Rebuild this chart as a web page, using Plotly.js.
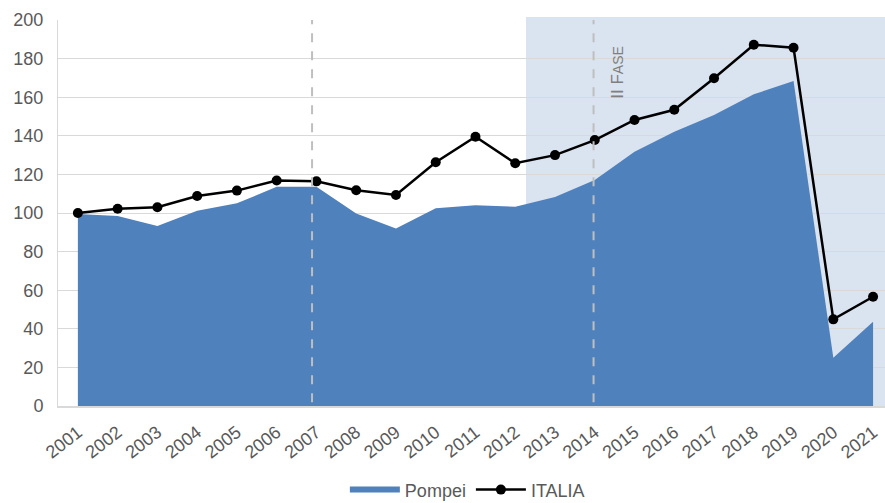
<!DOCTYPE html>
<html>
<head>
<meta charset="utf-8">
<script src="https://cdn.plot.ly/plotly-3.0.1.min.js"></script>
<style>
html,body{margin:0;padding:0;background:#fff;}
#chart{width:885px;height:503px;}
</style>
</head>
<body>
<div id="chart"></div>
<script>
const years = ["2001","2002","2003","2004","2005","2006","2007","2008","2009","2010","2011","2012","2013","2014","2015","2016","2017","2018","2019","2020","2021"];
const pompei = [99.5,98.4,93.3,101.2,105,113.6,113.6,99.8,92,102.4,104,103.3,108.3,117.1,131.8,142.1,150.8,161.5,168.4,25,43.7];
const italia = [100,102.2,103,108.8,111.6,116.8,116.4,111.8,109.3,126.3,139.5,125.8,130,137.8,148.2,153.5,169.8,187.2,185.6,44.9,56.6];
const phaseLabel = "II F<span style='font-size:14px'>ASE</span>";

const font = {family: "Liberation Sans, Arial, sans-serif", color: "#595959", size: 18};

const traces = [
  {
    type: "scatter", mode: "none", name: "Pompei",
    x: years, y: pompei,
    fill: "tozeroy", fillcolor: "#4f81bd",
    hoverinfo: "skip"
  },
  {
    type: "scatter", mode: "lines+markers", name: "ITALIA",
    x: years, y: italia,
    line: {color: "#000000", width: 2.5},
    marker: {color: "#000000", size: 10}
  }
];

const layout = {
  width: 885, height: 503,
  margin: {l: 58, r: 0, t: 20, b: 97, autoexpand: false},
  paper_bgcolor: "#ffffff",
  plot_bgcolor: "#ffffff",
  font: font,
  showlegend: true,
  legend: {
    orientation: "h", x: 0.495, xanchor: "center",
    yref: "container", y: 0.026, yanchor: "middle",
    font: {family: font.family, color: "#595959", size: 18},
    itemwidth: 50, tracegroupgap: 0
  },
  xaxis: {
    type: "category",
    range: [-0.5, 20.3],
    tickangle: -38,
    automargin: false,
    ticklabelstandoff: 7,
    tickfont: {family: font.family, color: "#595959", size: 18},
    showgrid: false,
    showline: true, linecolor: "#d9d9d9", linewidth: 2,
    ticks: "", zeroline: false
  },
  yaxis: {
    range: [0, 200],
    dtick: 20,
    automargin: false,
    ticklabelstandoff: 10,
    tickfont: {family: font.family, color: "#595959", size: 18},
    showgrid: true, gridcolor: "#d9d9d9", gridwidth: 1,
    showline: true, linecolor: "#d9d9d9", linewidth: 1,
    ticks: "", zeroline: false
  },
  shapes: [
    {
      type: "rect", layer: "below",
      xref: "x", yref: "paper",
      x0: 11.27, x1: 20.3, y0: 0, y1: 1.008,
      fillcolor: "#dae3f0", line: {width: 0}
    },
    {
      type: "line", layer: "above",
      xref: "x", yref: "paper",
      x0: 5.89, x1: 5.89, y0: 0.01, y1: 1,
      line: {color: "#bfbfbf", width: 2, dash: "dash"}
    },
    {
      type: "line", layer: "above",
      xref: "x", yref: "paper",
      x0: 12.97, x1: 12.97, y0: 0.01, y1: 1,
      line: {color: "#bfbfbf", width: 2, dash: "dash"}
    }
  ],
  annotations: [
    {
      text: phaseLabel, xref: "x", yref: "y",
      x: 13.55, y: 173, textangle: -90, showarrow: false,
      font: {family: font.family, color: "#7f7f7f", size: 17}
    }
  ]
};

Plotly.newPlot("chart", traces, layout, {displayModeBar: false, staticPlot: true});
</script>
</body>
</html>
